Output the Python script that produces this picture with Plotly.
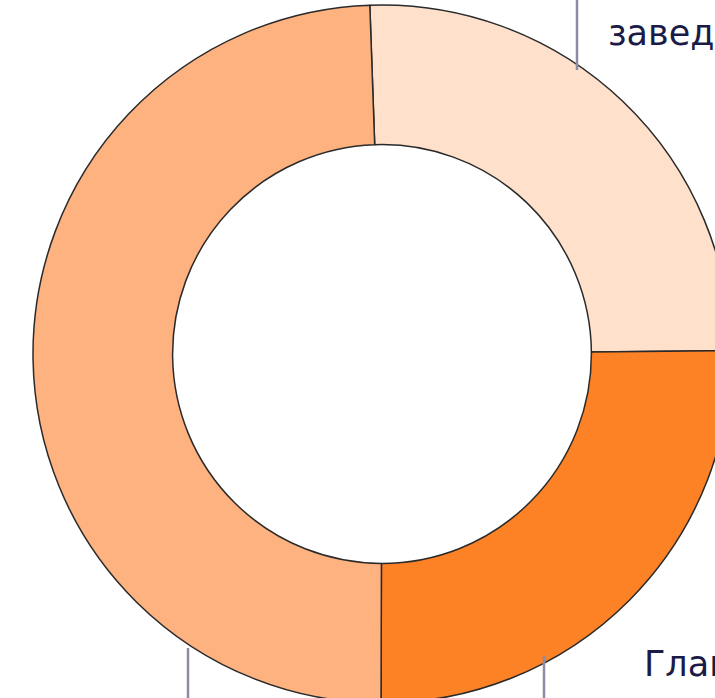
import plotly.graph_objects as go

# ---- data ----
categories = ["Учебное заведение", "Главная страница", "Другое"]
shares = [25.4, 25.2, 49.4]
colors = ["#FEE0CB", "#FD8125", "#FDB27F"]

# ---- canvas (larger than the window; window crops it like the reference) ----
W, H = 760, 720
cx, cy, R = 382, 354, 349


def px(x):
    return x / W


def py(y):
    return 1 - y / H


fig = go.Figure(
    go.Pie(
        labels=categories,
        values=shares,
        sort=False,
        direction="clockwise",
        rotation=-2,
        hole=0.6,
        textinfo="none",
        hoverinfo="label+percent",
        marker=dict(colors=colors, line=dict(color="#2a2a2a", width=1.5)),
        domain=dict(x=[px(cx - R), px(cx + R)], y=[py(cy + R), py(cy - R)]),
        showlegend=False,
    )
)

line_style = dict(color="#8d8ba6", width=2.5)
leaders = [(577, 0, 70), (188, 648, 720), (544, 656, 720)]
for x, y0, y1 in leaders:
    fig.add_shape(type="line", xref="paper", yref="paper",
                  x0=px(x), x1=px(x), y0=py(y0), y1=py(y1), line=line_style)

label_font = dict(family="DejaVu Sans, sans-serif", size=35, color="#1b1b48")
fig.add_annotation(text=categories[0].split(" ")[1], x=px(606), y=py(33), xref="paper", yref="paper",
                   xanchor="left", yanchor="middle", showarrow=False, font=label_font)
fig.add_annotation(text=categories[1].split(" ")[0], x=px(642), y=py(664), xref="paper", yref="paper",
                   xanchor="left", yanchor="middle", showarrow=False, font=label_font)

fig.update_layout(
    width=W, height=H,
    margin=dict(l=0, r=0, t=0, b=0),
    paper_bgcolor="white", plot_bgcolor="white",
)

fig.write_html(
    "out.html",
    config={"displayModeBar": False},
    post_script="document.body.style.margin='0';document.body.style.overflow='hidden';"
                "document.documentElement.style.overflow='hidden';",
)
